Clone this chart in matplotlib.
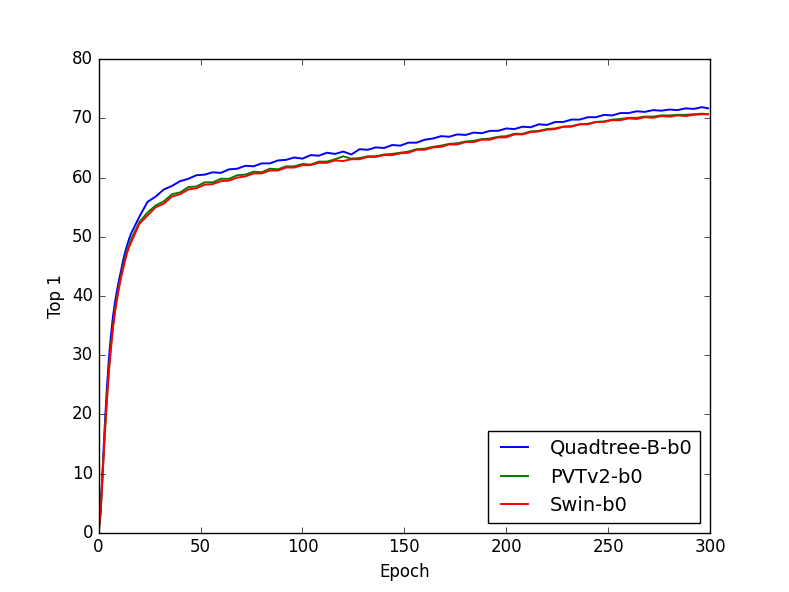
import matplotlib
matplotlib.use('Agg')
import matplotlib.pyplot as plt

# epocas (densas al inicio, cada 4 despues)
epochs = list(range(16)) + list(range(16, 297, 4)) + [299]

quadtree = [0.2, 4.0, 11.0, 18.0, 24.2, 29.2, 33.2, 36.4, 38.9, 40.9, 42.7, 44.3, 46.0, 47.4, 48.6, 49.7,
            50.6, 53.4, 55.9, 56.8, 58.0, 58.6, 59.4, 59.8, 60.4, 60.5, 60.9, 60.8, 61.4, 61.5, 62.0, 61.9,
            62.4, 62.4, 62.9, 63.0, 63.4, 63.2, 63.8, 63.7, 64.2, 64.0, 64.4, 63.9, 64.8, 64.7, 65.1, 65.0,
            65.5, 65.4, 65.9, 65.9, 66.4, 66.6, 67.0, 66.9, 67.3, 67.2, 67.6, 67.5, 67.9, 67.9, 68.3, 68.2,
            68.6, 68.5, 69.0, 68.9, 69.4, 69.4, 69.8, 69.8, 70.2, 70.2, 70.6, 70.5, 70.9, 70.9, 71.2, 71.1,
            71.4, 71.3, 71.5, 71.4, 71.7, 71.6, 71.9, 71.7]

pvtv2 = [0.1, 3.6, 10.2, 16.8, 22.4, 27.4, 31.4, 34.8, 37.5, 39.7, 41.7, 43.4, 45.0, 46.4, 47.7, 48.7,
         49.6, 52.5, 54.1, 55.3, 56.0, 57.2, 57.5, 58.4, 58.5, 59.2, 59.2, 59.8, 59.8, 60.4, 60.5, 61.0,
         60.9, 61.5, 61.4, 61.9, 61.9, 62.3, 62.2, 62.7, 62.7, 63.1, 63.6, 63.2, 63.3, 63.6, 63.6, 63.9,
         64.0, 64.2, 64.4, 64.8, 64.9, 65.2, 65.4, 65.7, 65.8, 66.1, 66.2, 66.5, 66.6, 66.9, 67.0, 67.4,
         67.4, 67.8, 67.9, 68.2, 68.3, 68.6, 68.7, 69.0, 69.1, 69.4, 69.5, 69.8, 69.9, 70.1, 70.1, 70.3,
         70.3, 70.5, 70.5, 70.6, 70.6, 70.7, 70.8, 70.7]

swin = [0.1, 3.5, 10.0, 16.5, 22.0, 27.0, 31.0, 34.5, 37.2, 39.4, 41.4, 43.1, 44.6, 46.0, 47.3, 48.3,
        49.1, 52.2, 53.6, 55.0, 55.6, 56.8, 57.2, 58.0, 58.2, 58.8, 58.9, 59.4, 59.5, 60.0, 60.2, 60.7,
        60.7, 61.2, 61.2, 61.7, 61.7, 62.1, 62.1, 62.5, 62.5, 62.9, 62.8, 63.1, 63.1, 63.5, 63.5, 63.8,
        63.8, 64.1, 64.2, 64.7, 64.7, 65.1, 65.2, 65.6, 65.6, 66.0, 66.0, 66.4, 66.4, 66.8, 66.8, 67.3,
        67.3, 67.7, 67.8, 68.1, 68.2, 68.6, 68.6, 69.0, 69.0, 69.4, 69.4, 69.7, 69.7, 70.0, 69.9, 70.2,
        70.1, 70.4, 70.3, 70.5, 70.4, 70.6, 70.7, 70.7]

plt.style.use('classic')

fig = plt.figure(figsize=(7.89, 5.92), dpi=100)
ax = fig.add_subplot(111)
ax.plot(epochs, quadtree, 'b', lw=1.4, label='Quadtree-B-b0')
ax.plot(epochs, pvtv2, 'g', lw=1.4, label='PVTv2-b0')
ax.plot(epochs, swin, 'r', lw=1.4, label='Swin-b0')
ax.set_xlim(0, 300)
ax.set_ylim(0, 80)
ax.set_xlabel('Epoch')
ax.set_ylabel('Top 1')
ax.legend(loc=4, fontsize=14)
fig.savefig('out.png', dpi=100, facecolor='white')
